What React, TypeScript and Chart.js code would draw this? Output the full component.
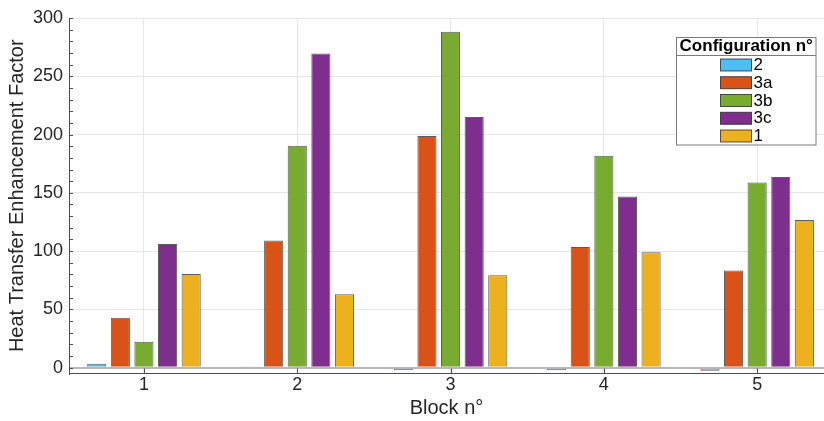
import { useEffect, useRef } from "react";
import { Chart, registerables } from "chart.js";

Chart.register(...registerables);

// ---- data ----
const blocks = [1, 2, 3, 4, 5];
const configLabels = ["2", "3a", "3b", "3c", "1"];
const cfg2 = [3.4, 0.9, -2.0, -2.0, -2.6];
const cfg3a = [42.9, 109.0, 198.7, 103.6, 83.3];
const cfg3b = [22.3, 190.4, 288.2, 181.8, 158.8];
const cfg3c = [106.2, 269.6, 215.0, 146.8, 163.5];
const cfg1 = [80.4, 63.0, 79.3, 99.0, 126.8];
const seriesValues = [cfg2, cfg3a, cfg3b, cfg3c, cfg1];
const yTicks = [0, 50, 100, 150, 200, 250, 300];

const seriesColors = ["#4DBEEE", "#D95319", "#77AC30", "#7E2F8E", "#EDB120"];
const FONT = "'Liberation Sans', Arial, Helvetica, sans-serif";
const TEXT = "#262626";

const decorPlugin = {
  id: "decor",
  afterDraw(chart: any) {
    const { ctx, chartArea, scales } = chart;
    const xs = scales.x;
    const ys = scales.y;
    ctx.save();
    // inner tick marks on y axis (every 10)
    ctx.strokeStyle = "#4d4d4d";
    ctx.lineWidth = 1;
    ctx.beginPath();
    for (let v = 0; v <= 300; v += 10) {
      const py = Math.round(ys.getPixelForValue(v)) + 0.5;
      ctx.moveTo(chartArea.left, py);
      ctx.lineTo(chartArea.left + 4, py);
    }
    // inner tick marks on x axis
    for (const b of blocks) {
      const px = Math.round(xs.getPixelForValue(b)) + 0.5;
      ctx.moveTo(px, chartArea.bottom);
      ctx.lineTo(px, chartArea.bottom - 5);
    }
    ctx.stroke();

    // legend
    const bx = 676.5, by = 37.5, bw = 139.5, bh = 107.5;
    ctx.fillStyle = "#ffffff";
    ctx.fillRect(bx, by, bw, bh);
    ctx.strokeStyle = "#7a7a7a";
    ctx.strokeRect(bx, by, bw, bh);
    ctx.beginPath();
    ctx.moveTo(bx, 55.5);
    ctx.lineTo(bx + bw, 55.5);
    ctx.stroke();
    ctx.fillStyle = "#000000";
    ctx.font = `bold 17px ${FONT}`;
    ctx.textAlign = "center";
    ctx.textBaseline = "middle";
    ctx.fillText("Configuration n°", bx + bw / 2, 46.5);
    const rows = [65, 82.7, 100.5, 118.3, 136];
    chart.data.datasets.forEach((ds: any, i: number) => {
      const cy = rows[i];
      ctx.fillStyle = ds.backgroundColor;
      ctx.fillRect(720.5, cy - 6, 31, 12);
      ctx.strokeStyle = "rgba(30,30,30,0.75)";
      ctx.strokeRect(720.5, cy - 6, 31, 12);
      ctx.fillStyle = "#000000";
      ctx.font = `17px ${FONT}`;
      ctx.textAlign = "left";
      ctx.fillText(ds.label, 753.5, cy + 0.5);
    });
    ctx.restore();
  },
};

export default function App() {
  const canvasRef = useRef<HTMLCanvasElement | null>(null);

  useEffect(() => {
    if (!canvasRef.current) return;
    const chart = new Chart(canvasRef.current, {
      type: "bar",
      data: {
        datasets: configLabels.map((label, i) => ({
          label,
          data: blocks.map((b, j) => ({ x: b, y: seriesValues[i][j] })),
          backgroundColor: seriesColors[i],
          borderColor: "rgba(30,30,30,0.72)",
          borderWidth: 1,
          borderSkipped: "start",
          categoryPercentage: 0.77,
          barPercentage: 0.81,
        })),
      },
      options: {
        animation: false,
        responsive: false,
        layout: { padding: { top: 18, left: 0, right: 0, bottom: 0 } },
        plugins: { legend: { display: false }, tooltip: { enabled: false } },
        scales: {
          x: {
            type: "linear",
            min: 0.511,
            max: 5.436,
            offset: false,
            afterBuildTicks: (scale: any) => {
              scale.ticks = blocks.map((v) => ({ value: v }));
            },
            afterFit: (scale: any) => {
              scale.height = 47.5;
            },
            grid: { offset: false, color: "#e6e6e6", drawTicks: false },
            border: { display: true, color: "#4d4d4d", width: 1 },
            ticks: {
              padding: 1,
              color: TEXT,
              font: { family: FONT, size: 18 },
              callback: (v: any) => String(v),
            },
            title: {
              display: true,
              text: "Block n°",
              color: TEXT,
              font: { family: FONT, size: 20 },
              padding: { top: 0, bottom: 1 },
            },
          },
          y: {
            min: -5,
            max: 300,
            afterBuildTicks: (scale: any) => {
              scale.ticks = yTicks.map((v) => ({ value: v }));
            },
            afterFit: (scale: any) => {
              scale.width = 69;
            },
            grid: {
              drawTicks: false,
              color: (c: any) => (c.tick && c.tick.value === 0 ? "#b8b8b8" : "#e6e6e6"),
              lineWidth: (c: any) => (c.tick && c.tick.value === 0 ? 2 : 1),
            },
            border: { display: true, color: "#4d4d4d", width: 1 },
            ticks: {
              padding: 6,
              color: TEXT,
              font: { family: FONT, size: 18 },
            },
            title: {
              display: true,
              text: "Heat Transfer Enhancement Factor",
              color: TEXT,
              font: { family: FONT, size: 20 },
              padding: { top: 5, bottom: 0 },
            },
          },
        },
      },
      plugins: [decorPlugin],
    } as any);
    return () => chart.destroy();
  }, []);

  return (
    <div style={{ position: "fixed", left: 0, top: 0, width: 824, height: 421, overflow: "hidden", background: "#fff" }}>
      <canvas ref={canvasRef} width={824} height={421} />
    </div>
  );
}
